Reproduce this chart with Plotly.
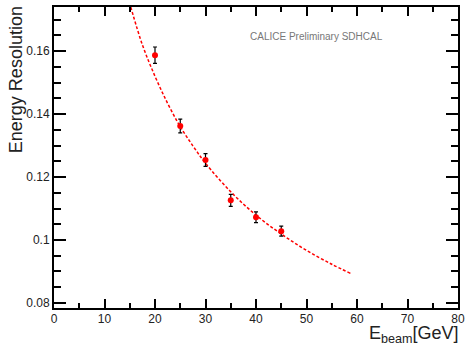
import plotly.graph_objects as go

# Measured points
energy = [20, 25, 30, 35, 40, 45]
resolution = [0.1587, 0.1362, 0.1254, 0.1126, 0.1072, 0.1028]
res_err = [0.0026, 0.0022, 0.0020, 0.0019, 0.0017, 0.0016]

# Fit curve
fit_e = [15.2, 17.5, 20, 22.5, 25, 27.5, 30, 35, 40, 45, 50, 55, 58.7]
fit_res = [0.174, 0.162, 0.152, 0.1434, 0.136, 0.1299, 0.1244, 0.1153, 0.1079, 0.1019, 0.0967, 0.0923, 0.0894]

x_ticks = [0, 10, 20, 30, 40, 50, 60, 70, 80]
y_ticks = [0.08, 0.10, 0.12, 0.14, 0.16]
y_tick_labels = ["0.08", "0.1", "0.12", "0.14", "0.16"]

fig = go.Figure()
fig.add_trace(go.Scatter(
    x=fit_e, y=fit_res, mode="lines", line_shape="spline",
    line=dict(color="#ff0000", width=1.5, dash="3px,2px"),
    hoverinfo="skip", showlegend=False))
fig.add_trace(go.Scatter(
    x=energy, y=resolution, mode="markers",
    marker=dict(color="#ff0000", size=6, symbol="circle"),
    error_y=dict(type="data", array=res_err, color="black", thickness=1.2, width=2),
    showlegend=False))

font_family = "Liberation Sans, Arial, sans-serif"
axis_common = dict(
    showline=True, linecolor="black", linewidth=2, mirror="ticks",
    ticks="inside", tickcolor="black", tickwidth=1.5,
    showgrid=False, zeroline=False,
    tickfont=dict(family=font_family, size=12, color="#222"),
)

fig.update_layout(
    width=466, height=345,
    margin=dict(l=54, r=8, t=7, b=37, autoexpand=False),
    paper_bgcolor="white", plot_bgcolor="white",
    font=dict(family=font_family),
    xaxis=dict(range=[0, 80], tickvals=x_ticks, ticklen=9, ticklabelstandoff=-1,
               minor=dict(dtick=5, tick0=0, ticklen=5, ticks="inside", tickcolor="black", tickwidth=1.5),
               **axis_common),
    yaxis=dict(range=[0.0784, 0.174], tickvals=y_ticks, ticktext=y_tick_labels, ticklen=12,
               minor=dict(dtick=0.005, tick0=0.08, ticklen=7, ticks="inside", tickcolor="black", tickwidth=1.5),
               **axis_common),
    annotations=[
        dict(text="Energy Resolution", x=-0.094, y=0.757, xref="paper", yref="paper",
             textangle=-90, showarrow=False, xanchor="center", yanchor="middle",
             font=dict(family=font_family, size=18, color="#222")),
        dict(text="E<sub>beam</sub>[GeV]", x=1.008, y=-0.087, xref="paper", yref="paper",
             showarrow=False, xanchor="right", yanchor="middle",
             font=dict(family=font_family, size=18, color="#222")),
        dict(text="CALICE Preliminary SDHCAL", x=38.5, y=0.1646, xref="x", yref="y",
             showarrow=False, xanchor="left", yanchor="middle",
             font=dict(family=font_family, size=10, color="#777")),
    ],
)

fig.write_html("out.html", config={"displayModeBar": False},
               post_script="document.body.style.margin='0';document.body.style.overflow='hidden';")
